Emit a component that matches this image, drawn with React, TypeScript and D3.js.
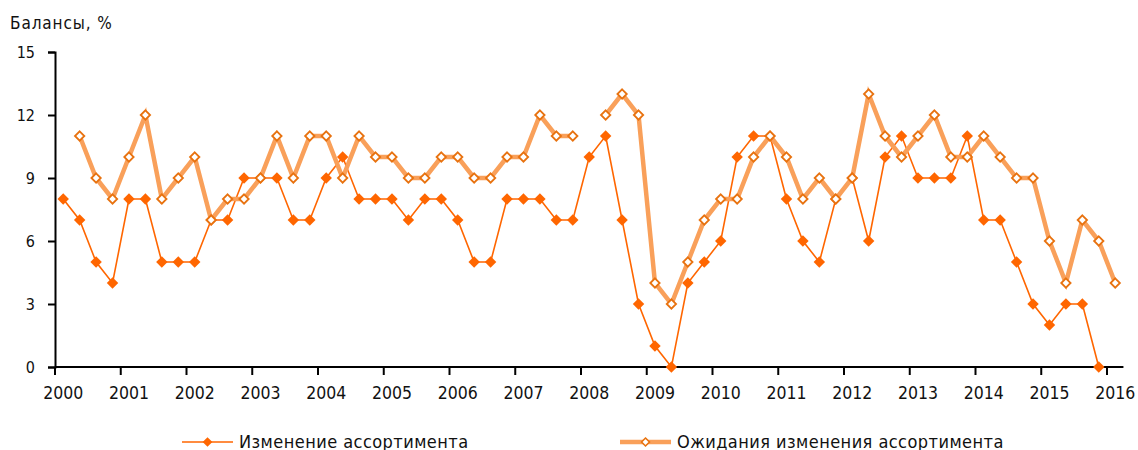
import React, { useEffect, useRef } from 'react';
import * as d3 from 'd3';

// quarterly balances, 2000Q1 .. 2015Q4
const changeValues = [
  8, 7, 5, 4,
  8, 8, 5, 5,
  5, 7, 7, 9,
  9, 9, 7, 7,
  9, 10, 8, 8,
  8, 7, 8, 8,
  7, 5, 5, 8,
  8, 8, 7, 7,
  10, 11, 7, 3,
  1, 0, 4, 5,
  6, 10, 11, 11,
  8, 6, 5, 8,
  9, 6, 10, 11,
  9, 9, 9, 11,
  7, 7, 5, 3,
  2, 3, 3, 0
];

// expectations, 2000Q2 .. 2016Q1 (2008Q1 missing)
const expectValues = [
  11, 9, 8,
  10, 12, 8, 9,
  10, 7, 8, 8,
  9, 11, 9, 11,
  11, 9, 11, 10,
  10, 9, 9, 10,
  10, 9, 9, 10,
  10, 12, 11, 11,
  null, 12, 13, 12,
  4, 3, 5, 7,
  8, 8, 10, 11,
  10, 8, 9, 8,
  9, 13, 11, 10,
  11, 12, 10, 10,
  11, 10, 9, 9,
  6, 4, 7, 6,
  4
];

const yearTicks = d3.range(2000, 2017);
const yTicks = [0, 3, 6, 9, 12, 15];

const seriesNames = ['Изменение ассортимента', 'Ожидания изменения ассортимента'];

const FONT = '"DejaVu Sans Condensed", "DejaVu Sans", sans-serif';

const Chart = () => {
  const container = useRef(null);

  useEffect(() => {
    draw();
  }, []);

  const draw = () => {
    const width = 1138;
    const height = 450;

    const xScale = d3.scaleLinear().domain([2000, 2016]).range([55, 1107]);
    const yScale = d3.scaleLinear().domain([0, 15]).range([367, 52]);

    const svg = d3
      .select(container.current)
      .selectAll('svg')
      .data([0])
      .join('svg')
      .attr('width', width)
      .attr('height', height)
      .style('position', 'absolute')
      .style('left', 0)
      .style('top', 0)
      .style('font-family', FONT);

    svg.selectAll('*').remove();

    svg
      .append('text')
      .attr('x', 10)
      .attr('y', 29)
      .attr('font-size', 17)
      .attr('letter-spacing', 0.9)
      .attr('fill', '#111')
      .text('Балансы, %');

    // y axis
    const yAxis = d3
      .axisLeft(yScale)
      .tickValues(yTicks)
      .tickSize(7)
      .tickPadding(13);
    const yg = svg.append('g').attr('transform', `translate(55,0)`).call(yAxis);
    yg.select('.domain').attr('stroke', '#000').attr('stroke-width', 2);
    yg.selectAll('.tick line').attr('stroke', '#000').attr('stroke-width', 2);
    yg.selectAll('.tick text')
      .attr('font-size', 16)
      .attr('fill', '#111')
      .attr('font-family', FONT);

    // x axis
    const xg = svg.append('g').attr('transform', `translate(0,${yScale(0)})`);
    xg.append('line')
      .attr('x1', xScale(2000))
      .attr('x2', xScale(2016.25))
      .attr('stroke', '#000')
      .attr('stroke-width', 2);
    xg.selectAll('.xtick')
      .data(yearTicks)
      .join('line')
      .attr('class', 'xtick')
      .attr('x1', d => xScale(d))
      .attr('x2', d => xScale(d))
      .attr('y1', 0)
      .attr('y2', 8)
      .attr('stroke', '#000')
      .attr('stroke-width', 2);
    xg.selectAll('.xlabel')
      .data(yearTicks)
      .join('text')
      .attr('class', 'xlabel')
      .attr('x', d => xScale(d + 0.125))
      .attr('y', 32)
      .attr('text-anchor', 'middle')
      .attr('font-size', 17.5)
      .attr('fill', '#111')
      .text(d => d);

    const changePts = changeValues.map((v, i) => ({ t: 2000 + i / 4 + 0.125, v }));
    const expectPts = expectValues.map((v, i) => ({ t: 2000.25 + i / 4 + 0.125, v }));

    const line = d3
      .line()
      .defined(d => d.v != null)
      .x(d => xScale(d.t))
      .y(d => yScale(d.v));

    const diamond = d3.symbol().type(d3.symbolDiamond2);

    svg
      .append('path')
      .attr('d', line(changePts))
      .attr('fill', 'none')
      .attr('stroke', '#FF6600')
      .attr('stroke-width', 1.6);

    svg
      .append('path')
      .attr('d', line(expectPts))
      .attr('fill', 'none')
      .attr('stroke', '#F9A05A')
      .attr('stroke-width', 4.5);

    svg
      .selectAll('.m1')
      .data(changePts)
      .join('path')
      .attr('class', 'm1')
      .attr('d', diamond.size(84)())
      .attr('transform', d => `translate(${xScale(d.t)},${yScale(d.v)})`)
      .attr('fill', '#FF6600');

    svg
      .selectAll('.m2')
      .data(expectPts.filter(d => d.v != null))
      .join('path')
      .attr('class', 'm2')
      .attr('d', diamond.size(56)())
      .attr('transform', d => `translate(${xScale(d.t)},${yScale(d.v)})`)
      .attr('fill', '#fff')
      .attr('stroke', '#E8720F')
      .attr('stroke-width', 1.8);

    // legend
    const legend = [
      { name: seriesNames[0], x1: 182, x2: 233, text: 239, thick: false },
      { name: seriesNames[1], x1: 620, x2: 671, text: 677, thick: true }
    ];
    const ly = 442;
    legend.forEach(l => {
      const g = svg.append('g');
      g.append('line')
        .attr('x1', l.x1)
        .attr('x2', l.x2)
        .attr('y1', ly)
        .attr('y2', ly)
        .attr('stroke', l.thick ? '#F9A05A' : '#FF6600')
        .attr('stroke-width', l.thick ? 4.5 : 1.6);
      const cx = (l.x1 + l.x2) / 2;
      if (l.thick) {
        g.append('path')
          .attr('d', diamond.size(40)())
          .attr('transform', `translate(${cx},${ly})`)
          .attr('fill', '#fff')
          .attr('stroke', '#E8720F')
          .attr('stroke-width', 1.6);
      } else {
        g.append('path')
          .attr('d', diamond.size(60)())
          .attr('transform', `translate(${cx},${ly})`)
          .attr('fill', '#FF6600');
      }
      g.append('text')
        .attr('x', l.text)
        .attr('y', 448)
        .attr('font-size', 18)
        .attr('letter-spacing', 0.45)
        .attr('fill', '#111')
        .text(l.name);
    });
  };

  return <div ref={container}></div>;
};

export default function App() {
  return <Chart />;
}
